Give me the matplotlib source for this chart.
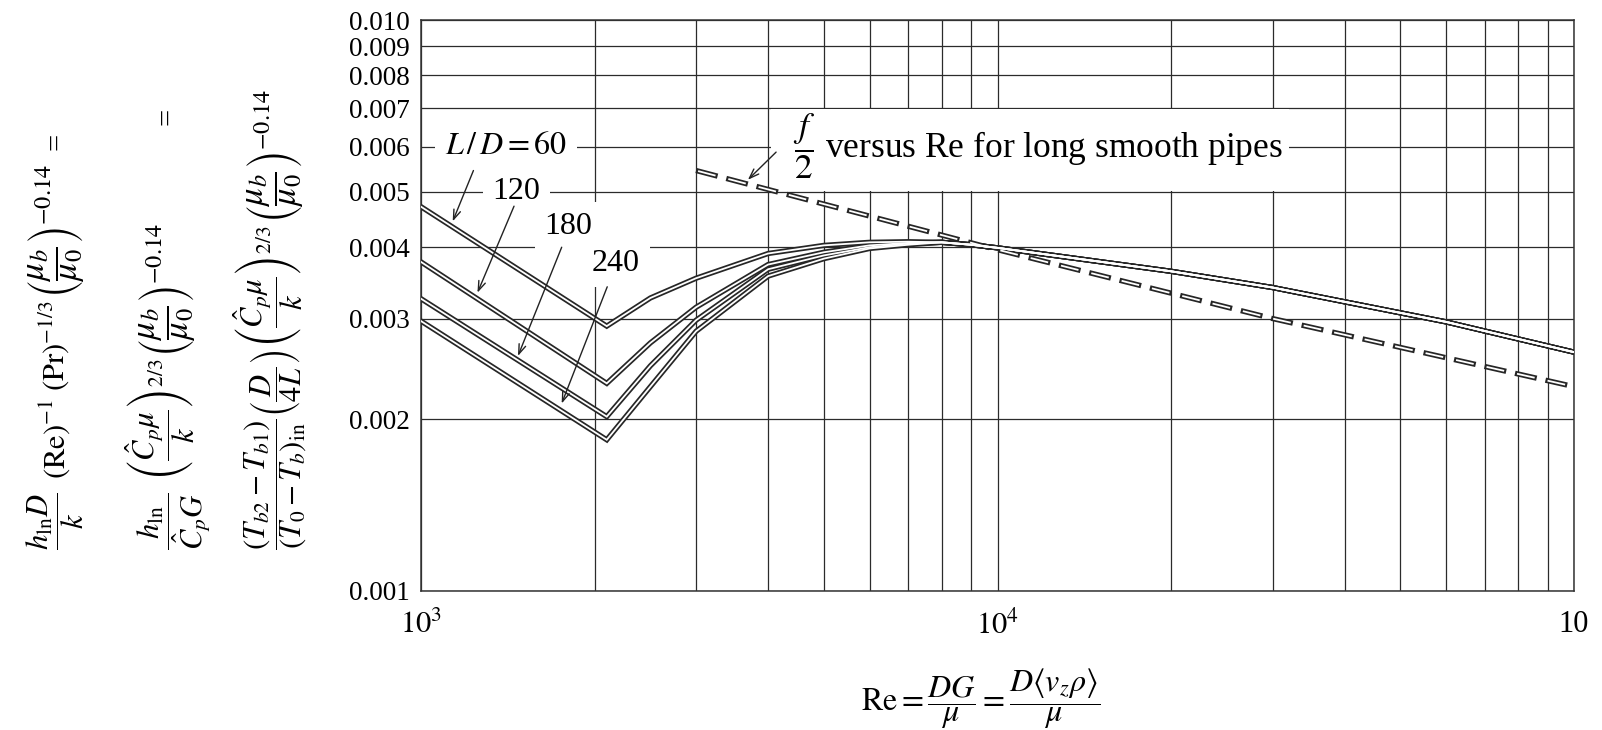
import numpy as np
import matplotlib.pyplot as plt
from matplotlib.patches import Rectangle
from matplotlib.ticker import FixedLocator, NullFormatter

plt.rcParams['font.family'] = ['Liberation Serif', 'DejaVu Serif']
plt.rcParams['mathtext.fontset'] = 'stix'
plt.rcParams['lines.scale_dashes'] = False

# values
re_60 = [1000, 2100, 2500, 3000, 4000, 5000, 6000, 7000]
f_60 = [0.00471, 0.00291, 0.00326, 0.00353, 0.00390, 0.00403, 0.00408, 0.00409]
re_120 = [1000, 2100, 2500, 3000, 4000, 5000, 6000, 7000]
f_120 = [0.00377, 0.00231, 0.00272, 0.00314, 0.00373, 0.00392, 0.00403, 0.00407]
re_180 = [1000, 2100, 2500, 3000, 4000, 5000, 6000, 7000]
f_180 = [0.00325, 0.00202, 0.00248, 0.00298, 0.00366, 0.00387, 0.00400, 0.00406]
re_240 = [1000, 2100, 2500, 3000, 4000, 5000, 6000, 7000]
f_240 = [0.00297, 0.00184, 0.00228, 0.00285, 0.00356, 0.00382, 0.00398, 0.00404]

# common turbulent branch
re_turb = [8000, 9000, 10000, 20000, 30000, 60000, 100000]
f_turb = [0.00408, 0.00404, 0.00399, 0.00363, 0.00340, 0.00296, 0.00262]

# f/2 for long smooth pipes (dashed)
re_pipe = [3000, 10000, 30000, 100000]
f_pipe = [0.00545, 0.00396, 0.00300, 0.00228]

y_ticks = [0.001, 0.002, 0.003, 0.004, 0.005, 0.006, 0.007, 0.008, 0.009, 0.010]
y_labels = ['0.001', '0.002', '0.003', '0.004', '0.005', '0.006', '0.007', '0.008', '0.009', '0.010']
x_ticks = [1e3, 1e4, 1e5]
x_labels = ['$10^3$', '$10^4$', '10']
x_minor = [2e3, 3e3, 4e3, 5e3, 6e3, 7e3, 8e3, 9e3, 2e4, 3e4, 4e4, 5e4, 6e4, 7e4, 8e4, 9e4]

curves = [(re_60, f_60, 'L/D = 60'), (re_120, f_120, '120'),
          (re_180, f_180, '180'), (re_240, f_240, '240')]

fig = plt.figure(figsize=(16.02, 7.30), dpi=100)
ax = fig.add_axes([421/1602, 1-591/730, 1153/1602, 571/730])
ax.set_xscale('log')
ax.set_yscale('log')
ax.set_xlim(1e3, 1e5)
ax.set_ylim(0.001, 0.010)

ax.xaxis.set_major_locator(FixedLocator(x_ticks))
ax.xaxis.set_minor_locator(FixedLocator(x_minor))
ax.xaxis.set_minor_formatter(NullFormatter())
ax.set_xticklabels(x_labels)
ax.yaxis.set_major_locator(FixedLocator(y_ticks))
ax.yaxis.set_minor_locator(FixedLocator([]))
ax.set_yticklabels(y_labels)
ax.tick_params(which='both', length=0)
ax.tick_params(axis='y', labelsize=19.5, pad=8)
ax.tick_params(axis='x', labelsize=22, pad=14)

ax.set_axisbelow(True)
ax.grid(True, which='both', color='#2b2b2b', lw=0.9)
for s in ax.spines.values():
    s.set_color('#333333')
    s.set_linewidth(1.1)

# blank band behind the f/2 label
ax.add_patch(Rectangle((4050, 0.00502), 32000 - 4050, 0.00698 - 0.00502,
                       facecolor='white', edgecolor='none', zorder=1.5))

# double-outlined solid curves
for re, f, _ in curves:
    ax.plot(re + re_turb, f + f_turb, color='#262626', lw=3.8, zorder=3,
            solid_joinstyle='miter')
for re, f, _ in curves:
    ax.plot(re + re_turb, f + f_turb, color='white', lw=1.3, zorder=4,
            solid_joinstyle='miter')

# double-outlined dashed line
ax.plot(re_pipe, f_pipe, color='#262626', lw=3.8, zorder=3,
        linestyle=(0, (16, 6.5)), dash_capstyle='butt')
ax.plot(re_pipe, f_pipe, color='white', lw=1.3, zorder=4,
        linestyle=(21, (13, 9.5)), dash_capstyle='butt')

box = dict(boxstyle='square,pad=0.3', facecolor='white', edgecolor='none')
ax.text(1405, 0.00600, r'$L\,/\,D = 60$', fontsize=23, ha='center', va='center',
        bbox=box, zorder=5)
ax.text(1462, 0.00500, '120', fontsize=23, ha='center', va='center', bbox=box, zorder=5)
ax.text(1803, 0.00435, '180', fontsize=23, ha='center', va='center', bbox=box, zorder=5)
ax.text(2179, 0.00375, '240', fontsize=23, ha='center', va='center', bbox=box, zorder=5)
ax.text(4420, 0.00600, r'$\dfrac{f}{2}$ versus Re for long smooth pipes', fontsize=25.5,
        ha='left', va='center', zorder=5)

arrows = [((1135, 0.00444), (1233, 0.00545)),
          ((1253, 0.00333), (1450, 0.00472)),
          ((1473, 0.00258), (1754, 0.00400)),
          ((1754, 0.00213), (2104, 0.00341)),
          ((3690, 0.00525), (4130, 0.00587))]
for tip, tail in arrows:
    ax.annotate('', xy=tip, xytext=tail, zorder=6,
                arrowprops=dict(arrowstyle='->,head_length=0.7,head_width=0.25',
                                color='#222222', lw=1.0, shrinkA=0, shrinkB=0))

# stacked y-axis expressions, drawn piece by piece going upward
# each piece: (text, fontsize, gap after in px)
fs = 22
mub = [(r'$\left(\dfrac{\mu_b}{\mu_0}\right)^{-0.14}$', 25, 0)]
cpk = [(r'$\left(\dfrac{\hat{C}_p\mu}{k}\right)^{2/3}$', fs, 2)]
l1 = [(r'$\dfrac{h_{\mathrm{ln}}D}{k}$', fs, 14),
      (r'$(\mathrm{Re})^{-1}$', fs, 8),
      (r'$(\mathrm{Pr})^{-1/3}$', fs, 3)] + mub
l2 = [(r'$\dfrac{h_{\mathrm{ln}}}{\hat{C}_pG}$', fs, 12)] + cpk + mub
l3 = [(r'$\dfrac{(T_{b2}-T_{b1})}{(T_0-T_b)_{\mathrm{in}}}$', fs, 2),
      (r'$\left(\dfrac{D}{4L}\right)$', fs, 2)] + cpk + mub

renderer = fig.canvas.get_renderer()
for x, pieces in [(64, l1), (175, l2), (283, l3)]:
    y = 1 - 550/730
    for s, size, gap in pieces:
        t = fig.text(x/1602, y, s, fontsize=size, rotation=90,
                     rotation_mode='anchor', ha='left', va='baseline')
        bb = t.get_window_extent(renderer)
        y = (bb.y1 + gap) / fig.bbox.height
for x, y in [(64, 150), (175, 125)]:
    fig.text(x/1602, 1-y/730, '=', fontsize=fs, rotation=90, rotation_mode='anchor',
             ha='left', va='baseline')

fig.text(981/1602, 1-699/730,
         r'$\mathrm{Re} = \dfrac{DG}{\mu} = \dfrac{D\langle v_z\rho\rangle}{\mu}$',
         fontsize=23, ha='center', va='center')

fig.savefig('out.png', dpi=100)
